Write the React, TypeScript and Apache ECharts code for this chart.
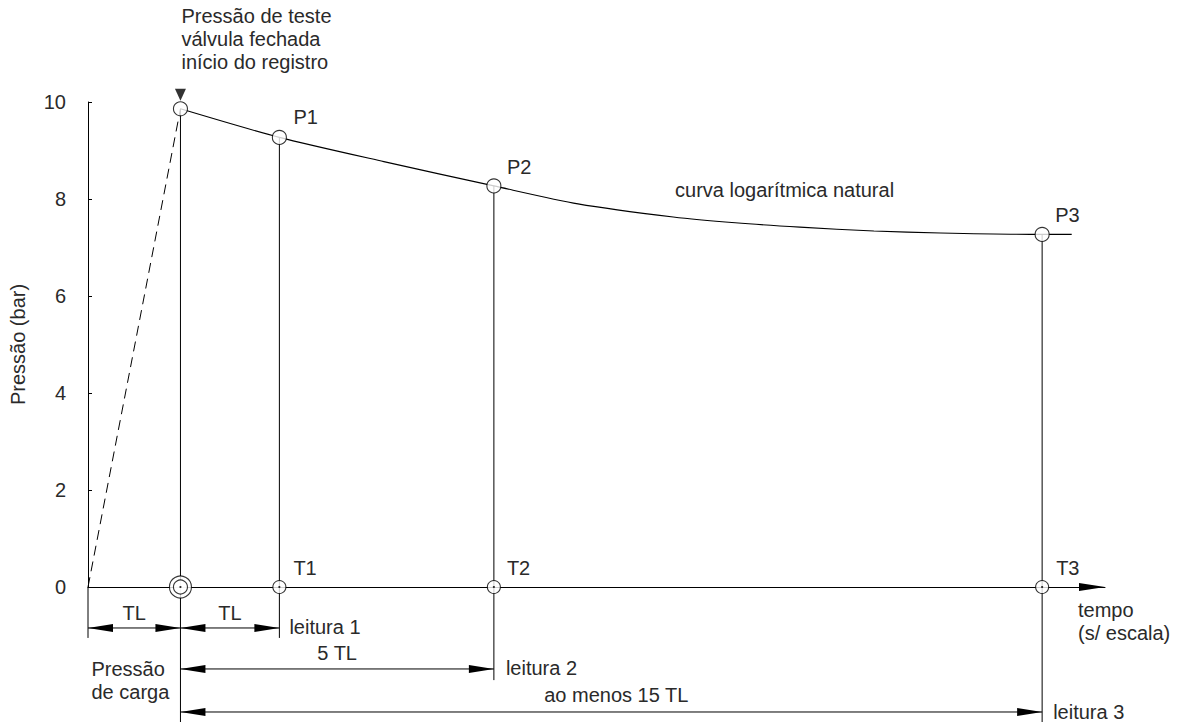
import React, { useEffect, useRef } from "react";
import * as echarts from "echarts";

const FONT = '"Liberation Sans", Arial, Helvetica, sans-serif';
const TEXT_COLOR = "#2a2a2a";
const FS = 20;

// time positions (not to scale) and pressure readings
const timeLabels = ["T0", "T1", "T2", "T3"];
const times = [1.0, 2.07, 4.39, 10.32];
const pressures = [9.86, 9.27, 8.27, 7.27];
const pointLabels = ["", "P1", "P2", "P3"];

// natural log decay curve points
const curveX = [1.0, 2.07, 3.2, 4.39, 5.3, 6.33, 7.0, 7.7, 8.5, 9.22, 10.32, 10.64];
const curveY = [9.86, 9.27, 8.77, 8.27, 7.9, 7.63, 7.51, 7.42, 7.34, 7.3, 7.27, 7.27];

// loading ramp (dashed): origin to test pressure
const rampX = [0, 1.0];
const rampY = [0, 9.86];

const yTicks = [0, 2, 4, 6, 8, 10];

// extension lines: [x, yTop, yBottom]
const extensionLines = [
  [0, 0, -1.05],
  [1.0, 9.86, -2.8],
  [2.07, 9.27, -1.05],
  [4.39, 8.27, -1.92],
  [10.32, 7.27, -2.8],
];

// dimension lines: [xStart, xEnd, y]
const dimensionLines = [
  [0, 1.0, -0.845],
  [1.0, 2.07, -0.845],
  [1.0, 4.39, -1.69],
  [1.0, 10.32, -2.577],
];

type Ann = {
  x: number;
  y: number;
  text: string;
  align: string;
  vAlign: string;
  dx: number;
  dy: number;
};

const annotations: Ann[] = [
  { x: 1.0, y: 9.86, text: "Pressão de teste\nválvula fechada\ninício do registro", align: "left", vAlign: "bottom", dx: 1, dy: -35 },
  { x: 2.07, y: 9.27, text: "P1", align: "left", vAlign: "middle", dx: 14, dy: -20 },
  { x: 4.39, y: 8.27, text: "P2", align: "left", vAlign: "middle", dx: 13, dy: -19 },
  { x: 10.32, y: 7.27, text: "P3", align: "left", vAlign: "middle", dx: 13, dy: -19 },
  { x: 2.07, y: 0, text: "T1", align: "left", vAlign: "middle", dx: 14, dy: -19 },
  { x: 4.39, y: 0, text: "T2", align: "left", vAlign: "middle", dx: 13, dy: -19 },
  { x: 10.32, y: 0, text: "T3", align: "left", vAlign: "middle", dx: 14, dy: -19 },
  { x: 6.35, y: 8.19, text: "curva logarítmica natural", align: "left", vAlign: "middle", dx: 0, dy: 0 },
  { x: 0.5, y: -0.845, text: "TL", align: "center", vAlign: "middle", dx: 0, dy: -15 },
  { x: 1.535, y: -0.845, text: "TL", align: "center", vAlign: "middle", dx: 0, dy: -15 },
  { x: 2.07, y: -0.845, text: "leitura 1", align: "left", vAlign: "middle", dx: 10, dy: -1 },
  { x: 2.695, y: -1.69, text: "5 TL", align: "center", vAlign: "middle", dx: 0, dy: -16 },
  { x: 4.39, y: -1.69, text: "leitura 2", align: "left", vAlign: "middle", dx: 12, dy: -1 },
  { x: 5.66, y: -2.577, text: "ao menos 15 TL", align: "center", vAlign: "middle", dx: 5, dy: -17 },
  { x: 10.32, y: -2.577, text: "leitura 3", align: "left", vAlign: "middle", dx: 11, dy: 0 },
  { x: 1.0, y: -1.69, text: "Pressão\nde carga", align: "left", vAlign: "top", dx: -89, dy: -11 },
  { x: 11, y: 0, text: "tempo\n(s/ escala)", align: "left", vAlign: "top", dx: -27, dy: 11 },
];

export default function App() {
  const ref = useRef<HTMLDivElement>(null);

  useEffect(() => {
    document.body.style.margin = "0";
    if (!ref.current) return;
    const chart = echarts.init(ref.current, null, { renderer: "svg" });

    const arrowLen = 25;
    const arrowHalf = 4;

    const option: any = {
      animation: false,
      backgroundColor: "#ffffff",
      textStyle: { fontFamily: FONT },
      grid: {
        left: 88,
        top: 102,
        width: 1017,
        height: 485,
        containLabel: false,
        outerBoundsMode: "none",
      },
      xAxis: {
        type: "value",
        min: 0,
        max: 11,
        axisLabel: { show: false },
        axisTick: { show: false },
        splitLine: { show: false },
        axisLine: {
          show: true,
          onZero: false,
          lineStyle: { color: "#000", width: 1 },
          symbol: ["none", "triangle"],
          symbolSize: [8, 26],
          symbolOffset: [0, -13],
        },
      },
      yAxis: {
        type: "value",
        min: 0,
        max: 10,
        interval: 2,
        name: "Pressão (bar)",
        nameLocation: "middle",
        nameRotate: 90,
        nameGap: 60,
        nameTextStyle: { fontSize: FS, color: TEXT_COLOR, fontFamily: FONT },
        axisLine: { show: true, lineStyle: { color: "#000", width: 1 } },
        axisTick: { show: true, inside: true, length: 4, lineStyle: { color: "#000" } },
        axisLabel: {
          fontSize: FS,
          color: TEXT_COLOR,
          fontFamily: FONT,
          margin: 22,
          customValues: yTicks,
        },
        splitLine: { show: false },
      },
      series: [
        {
          type: "custom",
          name: "extensions",
          z: 1,
          clip: false,
          silent: true,
          data: extensionLines,
          renderItem: (params: any, api: any) => {
            const a = api.coord([api.value(0), api.value(1)]);
            const b = api.coord([api.value(0), api.value(2)]);
            return {
              type: "line",
              shape: { x1: a[0], y1: a[1], x2: b[0], y2: b[1] },
              style: { stroke: "#000", lineWidth: 1 },
            };
          },
        },
        {
          type: "custom",
          name: "dimensions",
          z: 2,
          clip: false,
          silent: true,
          data: dimensionLines,
          renderItem: (params: any, api: any) => {
            const a = api.coord([api.value(0), api.value(2)]);
            const b = api.coord([api.value(1), api.value(2)]);
            return {
              type: "group",
              children: [
                {
                  type: "line",
                  shape: { x1: a[0], y1: a[1], x2: b[0], y2: b[1] },
                  style: { stroke: "#000", lineWidth: 1 },
                },
                {
                  type: "polygon",
                  shape: {
                    points: [
                      [a[0], a[1]],
                      [a[0] + arrowLen, a[1] - arrowHalf],
                      [a[0] + arrowLen, a[1] + arrowHalf],
                    ],
                  },
                  style: { fill: "#000" },
                },
                {
                  type: "polygon",
                  shape: {
                    points: [
                      [b[0], b[1]],
                      [b[0] - arrowLen, b[1] - arrowHalf],
                      [b[0] - arrowLen, b[1] + arrowHalf],
                    ],
                  },
                  style: { fill: "#000" },
                },
              ],
            };
          },
        },
        {
          type: "line",
          name: "ramp",
          z: 2,
          data: rampX.map((x, i) => [x, rampY[i]]),
          symbol: "none",
          lineStyle: { color: "#000", width: 1, type: [10, 6] },
        },
        {
          type: "line",
          name: "curva",
          z: 2,
          smooth: 0.25,
          data: curveX.map((x, i) => [x, curveY[i]]),
          symbol: "none",
          lineStyle: { color: "#000", width: 1.1 },
        },
        {
          type: "scatter",
          name: "test start marker",
          z: 4,
          data: [[times[0], pressures[0]]],
          symbol: "triangle",
          symbolRotate: 180,
          symbolSize: [11, 12],
          symbolOffset: [0, -14],
          itemStyle: { color: "#000" },
          silent: true,
        },
        {
          type: "scatter",
          name: "pressure readings",
          z: 4,
          data: times.map((t, i) => [t, pressures[i]]),
          symbol: "circle",
          symbolSize: 14,
          itemStyle: { color: "#fff", borderColor: "#000", borderWidth: 1.1 },
          silent: true,
        },
        {
          type: "scatter",
          name: "load point outer",
          z: 4,
          data: [[times[0], 0]],
          symbol: "circle",
          symbolSize: 22,
          itemStyle: { color: "#fff", borderColor: "#000", borderWidth: 1.1 },
          silent: true,
        },
        {
          type: "scatter",
          name: "time points",
          z: 5,
          data: times.map((t) => [t, 0]),
          symbol: "circle",
          symbolSize: (v: any, p: any) => (p.dataIndex === 0 ? 14 : 13),
          itemStyle: { color: "#fff", borderColor: "#000", borderWidth: 1.1 },
          silent: true,
        },
        {
          type: "scatter",
          name: "time dots",
          z: 6,
          data: times.map((t) => [t, 0]),
          symbol: "circle",
          symbolSize: 2.2,
          itemStyle: { color: "#000" },
          silent: true,
        },
        {
          type: "custom",
          name: "annotations",
          z: 7,
          clip: false,
          silent: true,
          data: annotations.map((a, i) => [a.x, a.y, i]),
          renderItem: (params: any, api: any) => {
            const ann = annotations[api.value(2)];
            const p = api.coord([api.value(0), api.value(1)]);
            return {
              type: "text",
              x: p[0] + ann.dx,
              y: p[1] + ann.dy,
              style: {
                text: ann.text,
                fill: TEXT_COLOR,
                fontSize: FS,
                fontFamily: FONT,
                align: ann.align,
                verticalAlign: ann.vAlign,
                lineHeight: 23,
              },
            };
          },
        },
      ],
    };

    chart.setOption(option);
    return () => chart.dispose();
  }, []);

  return <div ref={ref} style={{ width: 1178, height: 722 }} />;
}
